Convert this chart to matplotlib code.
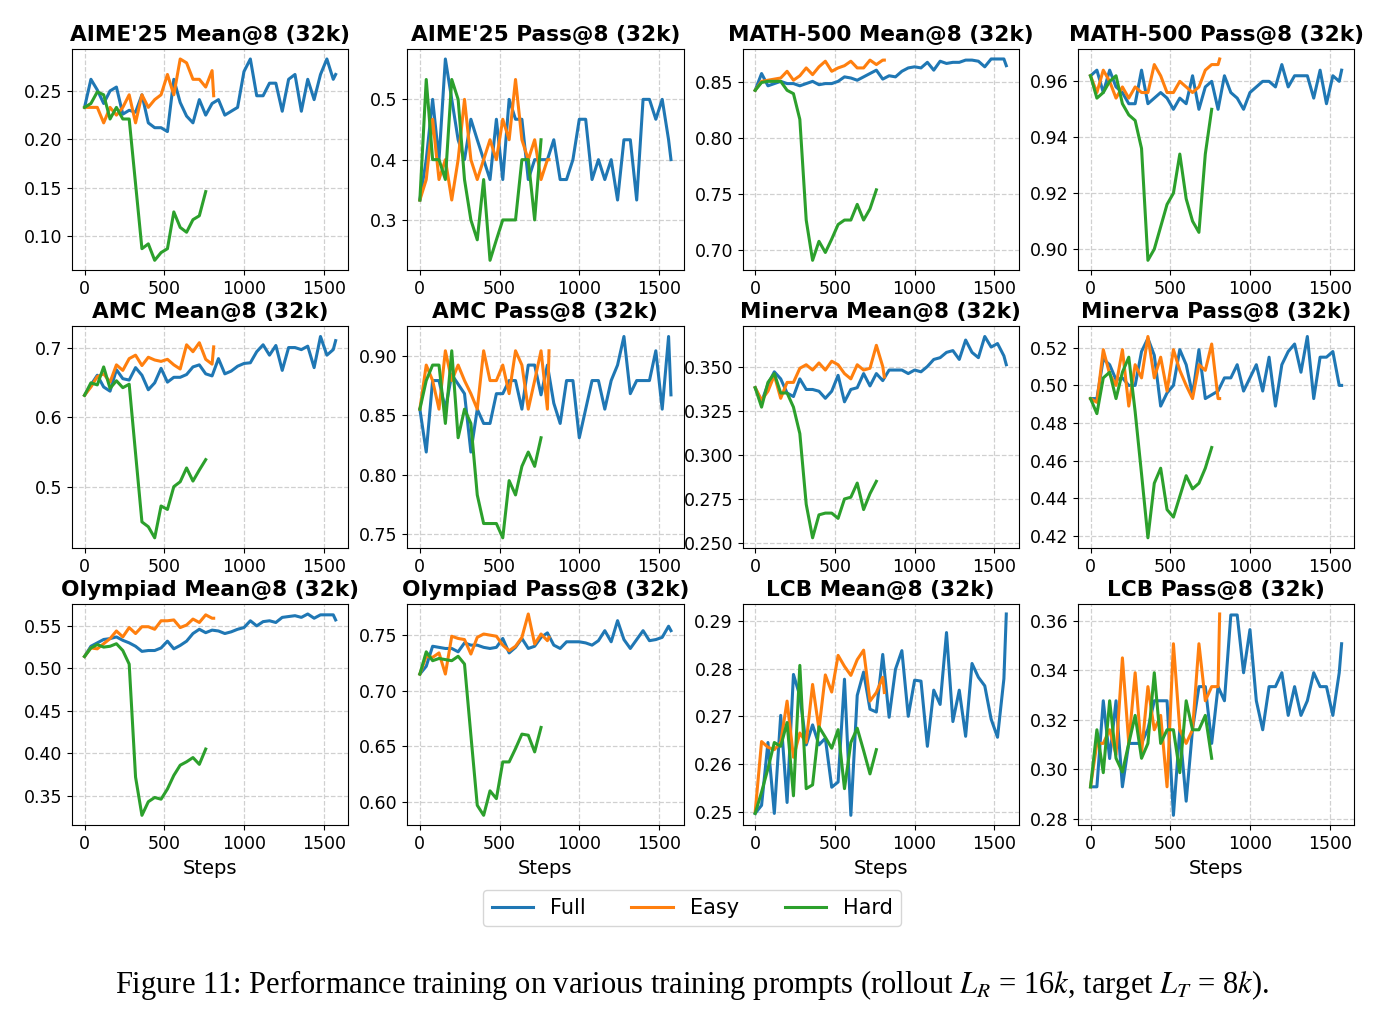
import matplotlib
matplotlib.use("Agg")
import matplotlib.pyplot as plt

steps_full = list(range(0, 1561, 40)) + [1575]
steps_easy = list(range(0, 801, 40)) + [810]
steps_hard = list(range(0, 761, 40))

titles = ["AIME'25 Mean@8 (32k)", "AIME'25 Pass@8 (32k)", "MATH-500 Mean@8 (32k)", "MATH-500 Pass@8 (32k)",
          "AMC Mean@8 (32k)", "AMC Pass@8 (32k)", "Minerva Mean@8 (32k)", "Minerva Pass@8 (32k)",
          "Olympiad Mean@8 (32k)", "Olympiad Pass@8 (32k)", "LCB Mean@8 (32k)", "LCB Pass@8 (32k)"]

aime_mean_full = [0.233, 0.262, 0.251, 0.237, 0.25, 0.254, 0.226, 0.23, 0.228, 0.246, 0.217, 0.212, 0.212, 0.208,
                  0.262, 0.238, 0.224, 0.217, 0.241, 0.225, 0.237, 0.241, 0.225, 0.229, 0.233, 0.27, 0.283, 0.245,
                  0.245, 0.258, 0.258, 0.229, 0.262, 0.267, 0.229, 0.262, 0.241, 0.267, 0.283, 0.262, 0.267]
aime_mean_easy = [0.233, 0.233, 0.233, 0.217, 0.233, 0.225, 0.233, 0.246, 0.217, 0.246, 0.233, 0.241, 0.246,
                  0.267, 0.246, 0.283, 0.279, 0.262, 0.262, 0.254, 0.271, 0.245]
aime_mean_hard = [0.233, 0.237, 0.249, 0.246, 0.221, 0.233, 0.221, 0.221, 0.154, 0.087, 0.092, 0.075, 0.083,
                  0.087, 0.125, 0.109, 0.104, 0.117, 0.121, 0.146]

aime_pass_full = [0.333, 0.4, 0.5, 0.4, 0.567, 0.5, 0.433, 0.4, 0.467, 0.433, 0.4, 0.367, 0.467, 0.367, 0.5,
                  0.467, 0.467, 0.367, 0.4, 0.4, 0.4, 0.433, 0.367, 0.367, 0.4, 0.467, 0.467, 0.367, 0.4, 0.367,
                  0.4, 0.333, 0.433, 0.433, 0.333, 0.5, 0.5, 0.467, 0.5, 0.433, 0.4]
aime_pass_easy = [0.333, 0.367, 0.467, 0.367, 0.4, 0.333, 0.4, 0.5, 0.4, 0.367, 0.4, 0.433, 0.4, 0.467, 0.433,
                  0.533, 0.433, 0.4, 0.433, 0.367, 0.4, 0.4]
aime_pass_hard = [0.333, 0.533, 0.4, 0.4, 0.367, 0.533, 0.5, 0.367, 0.3, 0.267, 0.367, 0.233, 0.267, 0.3, 0.3,
                  0.3, 0.4, 0.4, 0.3, 0.433]

math_mean_full = [0.843, 0.858, 0.847, 0.849, 0.851, 0.849, 0.849, 0.847, 0.849, 0.851, 0.848, 0.849, 0.849,
                  0.851, 0.855, 0.854, 0.852, 0.855, 0.858, 0.861, 0.853, 0.856, 0.855, 0.86, 0.863, 0.864,
                  0.863, 0.868, 0.861, 0.869, 0.867, 0.868, 0.868, 0.87, 0.87, 0.869, 0.864, 0.871, 0.871,
                  0.871, 0.865]
math_mean_easy = [0.843, 0.851, 0.852, 0.853, 0.854, 0.86, 0.852, 0.856, 0.863, 0.857, 0.864, 0.869, 0.86,
                  0.863, 0.865, 0.869, 0.863, 0.863, 0.87, 0.866, 0.87, 0.87]
math_mean_hard = [0.843, 0.85, 0.851, 0.851, 0.851, 0.843, 0.84, 0.817, 0.727, 0.691, 0.708, 0.698, 0.71,
                  0.723, 0.727, 0.727, 0.741, 0.727, 0.737, 0.754]

math_pass_full = [0.962, 0.964, 0.956, 0.964, 0.958, 0.956, 0.952, 0.952, 0.964, 0.952, 0.954, 0.956, 0.954,
                  0.95, 0.954, 0.952, 0.962, 0.95, 0.958, 0.96, 0.95, 0.962, 0.956, 0.954, 0.95, 0.956, 0.958,
                  0.96, 0.96, 0.958, 0.966, 0.958, 0.962, 0.962, 0.962, 0.954, 0.964, 0.952, 0.962, 0.96, 0.964]
math_pass_easy = [0.962, 0.956, 0.964, 0.96, 0.954, 0.958, 0.954, 0.958, 0.956, 0.956, 0.966, 0.962, 0.956,
                  0.956, 0.96, 0.958, 0.956, 0.958, 0.964, 0.966, 0.966, 0.968]
math_pass_hard = [0.962, 0.954, 0.956, 0.96, 0.962, 0.952, 0.948, 0.946, 0.936, 0.896, 0.9, 0.908, 0.916,
                  0.92, 0.934, 0.918, 0.91, 0.906, 0.934, 0.95]

amc_mean_full = [0.632, 0.647, 0.661, 0.644, 0.638, 0.669, 0.656, 0.654, 0.672, 0.661, 0.64, 0.65, 0.671,
                 0.651, 0.658, 0.658, 0.662, 0.673, 0.676, 0.663, 0.66, 0.685, 0.663, 0.667, 0.674, 0.678,
                 0.679, 0.695, 0.705, 0.69, 0.704, 0.668, 0.701, 0.701, 0.698, 0.703, 0.672, 0.717, 0.69,
                 0.698, 0.711]
amc_mean_easy = [0.632, 0.644, 0.659, 0.663, 0.651, 0.676, 0.668, 0.685, 0.69, 0.675, 0.687, 0.683, 0.681,
                 0.684, 0.676, 0.67, 0.705, 0.695, 0.708, 0.684, 0.677, 0.702]
amc_mean_hard = [0.632, 0.65, 0.647, 0.673, 0.642, 0.653, 0.643, 0.648, 0.548, 0.449, 0.442, 0.426, 0.472,
                 0.467, 0.5, 0.507, 0.527, 0.508, 0.524, 0.539]

amc_pass_full = [0.855, 0.819, 0.879, 0.879, 0.855, 0.884, 0.876, 0.868, 0.819, 0.855, 0.843, 0.843, 0.868,
                 0.868, 0.879, 0.879, 0.855, 0.892, 0.892, 0.867, 0.892, 0.86, 0.843, 0.879, 0.879, 0.831,
                 0.855, 0.879, 0.879, 0.855, 0.879, 0.892, 0.916, 0.868, 0.879, 0.879, 0.879, 0.904, 0.855,
                 0.916, 0.867]
amc_pass_easy = [0.855, 0.892, 0.879, 0.855, 0.904, 0.879, 0.892, 0.879, 0.868, 0.855, 0.904, 0.879, 0.879,
                 0.892, 0.868, 0.904, 0.892, 0.855, 0.879, 0.904, 0.855, 0.904]
amc_pass_hard = [0.855, 0.879, 0.892, 0.892, 0.843, 0.904, 0.831, 0.855, 0.843, 0.783, 0.759, 0.759, 0.759,
                 0.747, 0.795, 0.783, 0.807, 0.819, 0.807, 0.831]

minerva_mean_full = [0.338, 0.33, 0.34, 0.347, 0.343, 0.335, 0.333, 0.343, 0.337, 0.337, 0.336, 0.332, 0.336,
                     0.345, 0.33, 0.337, 0.338, 0.346, 0.339, 0.346, 0.342, 0.348, 0.348, 0.348, 0.346, 0.348,
                     0.347, 0.35, 0.354, 0.355, 0.358, 0.359, 0.354, 0.365, 0.358, 0.355, 0.367, 0.361, 0.363,
                     0.356, 0.351]
minerva_mean_easy = [0.338, 0.331, 0.336, 0.345, 0.332, 0.341, 0.341, 0.349, 0.351, 0.348, 0.352, 0.348,
                     0.353, 0.351, 0.346, 0.343, 0.351, 0.348, 0.349, 0.362, 0.35, 0.344]
minerva_mean_hard = [0.338, 0.327, 0.341, 0.346, 0.335, 0.335, 0.327, 0.312, 0.272, 0.253, 0.266, 0.267,
                     0.267, 0.264, 0.275, 0.276, 0.284, 0.269, 0.278, 0.285]

minerva_pass_full = [0.493, 0.493, 0.514, 0.511, 0.503, 0.504, 0.5, 0.5, 0.518, 0.525, 0.516, 0.489, 0.496,
                     0.5, 0.519, 0.511, 0.495, 0.519, 0.493, 0.495, 0.497, 0.504, 0.504, 0.511, 0.497, 0.504,
                     0.511, 0.497, 0.515, 0.489, 0.511, 0.518, 0.522, 0.507, 0.526, 0.493, 0.515, 0.515, 0.518,
                     0.5, 0.5]
minerva_pass_easy = [0.493, 0.491, 0.519, 0.506, 0.5, 0.519, 0.489, 0.511, 0.504, 0.526, 0.504, 0.515, 0.497,
                     0.519, 0.508, 0.5, 0.493, 0.511, 0.508, 0.522, 0.493, 0.493]
minerva_pass_hard = [0.493, 0.485, 0.504, 0.507, 0.493, 0.507, 0.515, 0.486, 0.453, 0.419, 0.448, 0.456,
                     0.434, 0.43, 0.441, 0.452, 0.445, 0.448, 0.456, 0.467]

olym_mean_full = [0.514, 0.526, 0.53, 0.534, 0.535, 0.537, 0.533, 0.53, 0.526, 0.52, 0.521, 0.521, 0.524,
                  0.532, 0.523, 0.527, 0.532, 0.541, 0.546, 0.542, 0.545, 0.544, 0.541, 0.543, 0.546, 0.548,
                  0.556, 0.55, 0.555, 0.556, 0.554, 0.56, 0.561, 0.562, 0.56, 0.564, 0.559, 0.563, 0.563,
                  0.563, 0.557]
olym_mean_easy = [0.514, 0.524, 0.523, 0.529, 0.535, 0.544, 0.537, 0.548, 0.541, 0.549, 0.549, 0.546, 0.556,
                  0.556, 0.557, 0.548, 0.551, 0.558, 0.554, 0.563, 0.559, 0.559]
olym_mean_hard = [0.514, 0.524, 0.528, 0.525, 0.526, 0.529, 0.521, 0.505, 0.372, 0.327, 0.343, 0.348, 0.346,
                  0.358, 0.374, 0.386, 0.39, 0.395, 0.387, 0.405]

olym_pass_full = [0.715, 0.722, 0.74, 0.739, 0.738, 0.738, 0.735, 0.743, 0.741, 0.741, 0.739, 0.738, 0.739,
                  0.747, 0.734, 0.739, 0.747, 0.738, 0.74, 0.748, 0.752, 0.741, 0.738, 0.744, 0.744, 0.744,
                  0.743, 0.741, 0.745, 0.754, 0.744, 0.763, 0.746, 0.738, 0.746, 0.754, 0.745, 0.746, 0.748,
                  0.758, 0.754]
olym_pass_easy = [0.715, 0.731, 0.73, 0.734, 0.715, 0.749, 0.747, 0.746, 0.733, 0.748, 0.751, 0.75, 0.749,
                  0.741, 0.736, 0.74, 0.748, 0.769, 0.742, 0.751, 0.745, 0.748]
olym_pass_hard = [0.715, 0.735, 0.727, 0.729, 0.728, 0.727, 0.731, 0.724, 0.66, 0.597, 0.588, 0.61, 0.603,
                  0.636, 0.636, 0.648, 0.661, 0.66, 0.645, 0.667]

lcb_mean_full = [0.2496, 0.2513, 0.2645, 0.2496, 0.2702, 0.2519, 0.2788, 0.2743, 0.264, 0.2682, 0.264, 0.2654,
                 0.2551, 0.2562, 0.2778, 0.2492, 0.2744, 0.2793, 0.2715, 0.2709, 0.283, 0.2698, 0.2799, 0.2838,
                 0.27, 0.2776, 0.2774, 0.2637, 0.2755, 0.2725, 0.2876, 0.2689, 0.2755, 0.2658, 0.2811, 0.2782,
                 0.2764, 0.2694, 0.2656, 0.2779, 0.2915]
lcb_mean_easy = [0.2499, 0.2647, 0.2635, 0.263, 0.2645, 0.2732, 0.2614, 0.2665, 0.2645, 0.2767, 0.2673, 0.2787,
                 0.2751, 0.2828, 0.2805, 0.2786, 0.2819, 0.2839, 0.2732, 0.275, 0.2782, 0.275]
lcb_mean_hard = [0.2496, 0.2541, 0.259, 0.2645, 0.2637, 0.2687, 0.2533, 0.2807, 0.2548, 0.2556, 0.2678, 0.2656,
                 0.2633, 0.2672, 0.2548, 0.2645, 0.2675, 0.2628, 0.2579, 0.263]

lcb_pass_full = [0.293, 0.293, 0.3277, 0.3044, 0.3277, 0.293, 0.3105, 0.3105, 0.3105, 0.3163, 0.3277, 0.3277,
                 0.3277, 0.2815, 0.316, 0.2872, 0.3163, 0.3334, 0.3334, 0.3105, 0.3334, 0.3277, 0.3623, 0.3623,
                 0.339, 0.3564, 0.3277, 0.316, 0.3334, 0.3334, 0.339, 0.3218, 0.3334, 0.3218, 0.3277, 0.339,
                 0.3334, 0.3334, 0.3218, 0.339, 0.3507]
lcb_pass_easy = [0.293, 0.3105, 0.3105, 0.316, 0.306, 0.345, 0.3105, 0.339, 0.3068, 0.3334, 0.316, 0.3218,
                 0.293, 0.3507, 0.316, 0.3105, 0.316, 0.3507, 0.3277, 0.3334, 0.3334, 0.3627]
lcb_pass_hard = [0.293, 0.316, 0.2987, 0.3277, 0.3045, 0.299, 0.3105, 0.3218, 0.3045, 0.3105, 0.339, 0.3105,
                 0.316, 0.316, 0.2987, 0.3277, 0.316, 0.316, 0.3218, 0.3045]

panels = [
    (aime_mean_full, aime_mean_easy, aime_mean_hard),
    (aime_pass_full, aime_pass_easy, aime_pass_hard),
    (math_mean_full, math_mean_easy, math_mean_hard),
    (math_pass_full, math_pass_easy, math_pass_hard),
    (amc_mean_full, amc_mean_easy, amc_mean_hard),
    (amc_pass_full, amc_pass_easy, amc_pass_hard),
    (minerva_mean_full, minerva_mean_easy, minerva_mean_hard),
    (minerva_pass_full, minerva_pass_easy, minerva_pass_hard),
    (olym_mean_full, olym_mean_easy, olym_mean_hard),
    (olym_pass_full, olym_pass_easy, olym_pass_hard),
    (lcb_mean_full, lcb_mean_easy, lcb_mean_hard),
    (lcb_pass_full, lcb_pass_easy, lcb_pass_hard),
]
series_names = ["Full", "Easy", "Hard"]

plt.rcParams['mathtext.fontset'] = 'stix'
fig, axes = plt.subplots(3, 4, figsize=(13.79, 10.19), dpi=100)
fig.subplots_adjust(left=0.0522, right=0.982, top=0.952, bottom=0.190, wspace=0.214, hspace=0.253)

handles = None
for i, ax in enumerate(axes.flat):
    full, easy, hard = panels[i]
    l1, = ax.plot(steps_full, full, color='C0', lw=2.2, label=series_names[0])
    l2, = ax.plot(steps_easy, easy, color='C1', lw=2.2, label=series_names[1])
    l3, = ax.plot(steps_hard, hard, color='C2', lw=2.2, label=series_names[2])
    handles = [l1, l2, l3]
    ax.set_title(titles[i], fontsize=15.6, fontweight='bold', pad=6)
    ax.grid(True, linestyle='--', color='#d0d0d0', linewidth=0.9)
    ax.set_xticks([0, 500, 1000, 1500])
    ax.tick_params(labelsize=12.5)
    if i >= 8:
        ax.set_xlabel("Steps", fontsize=14)

fig.legend(handles, series_names, loc='center', bbox_to_anchor=(0.502, 0.109), ncol=3,
           fontsize=15, frameon=True, handlelength=2.0, columnspacing=2.2)

fig.text(0.502, 0.033,
         r"Figure 11: Performance training on various training prompts (rollout $L_R$ = 16$k$, target $L_T$ = 8$k$).",
         ha='center', va='center', fontsize=22, family='Liberation Serif')

fig.savefig("out.png", dpi=100)
